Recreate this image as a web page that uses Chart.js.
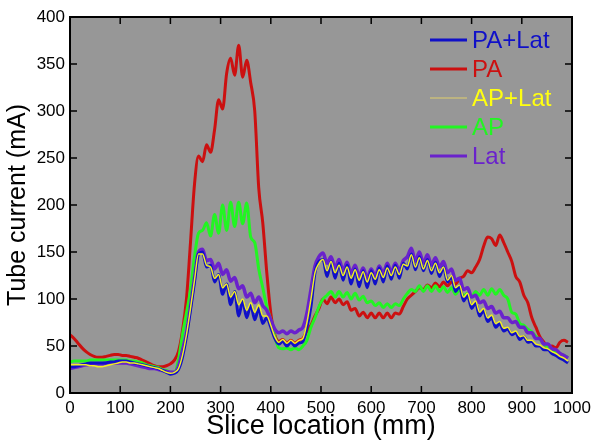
<!DOCTYPE html>
<html>
<head>
<meta charset="utf-8">
<script src="https://cdn.jsdelivr.net/npm/chart.js@4.4.1/dist/chart.umd.min.js"></script>
<style>
  html, body { margin: 0; padding: 0; background: #fff; }
  #wrap { width: 600px; height: 446px; }
</style>
</head>
<body>
<div id="wrap"><canvas id="chart" width="600" height="446"></canvas></div>
<script>
// slice location (mm)
const sliceMm = [
  0, 8, 16, 24, 32, 40, 48, 56, 64, 72, 80, 88, 96, 104, 112, 120, 128, 136, 144, 152, 160, 168, 176, 184, 192,
  200, 208, 216, 224, 232, 240, 248, 256, 264, 272, 280, 288, 296, 304, 312, 320, 328, 336, 344, 352, 360, 368, 376, 384, 392,
  400, 408, 416, 424, 432, 440, 448, 456, 464, 472, 480, 488, 496, 504, 512, 520, 528, 536, 544, 552, 560, 568, 576, 584, 592,
  600, 608, 616, 624, 632, 640, 648, 656, 664, 672, 680, 688, 696, 704, 712, 720, 728, 736, 744, 752, 760, 768, 776, 784, 792,
  800, 808, 816, 824, 832, 840, 848, 856, 864, 872, 880, 888, 896, 904, 912, 920, 928, 936, 944, 952, 960, 968, 976, 984, 992
];

// tube current (mA)
const paLat = [
  28, 28, 29, 30, 31, 32, 32, 32, 32, 32, 33, 33, 34, 34, 34, 33, 32, 31, 30, 29, 28, 27, 26, 24, 22,
  20, 21, 25, 38, 60, 88, 118, 148, 150, 134, 136, 118, 126, 105, 116, 94, 108, 82, 98, 80, 94, 78, 90, 74, 80,
  70, 58, 52, 55, 50, 54, 50, 53, 55, 70, 92, 128, 140, 142, 124, 140, 122, 138, 120, 136, 116, 132, 113, 130, 112,
  130, 116, 133, 118, 135, 121, 136, 122, 138, 132, 148, 131, 145, 130, 142, 127, 139, 124, 134, 118, 124, 108, 114, 98, 104,
  90, 96, 82, 88, 76, 80, 70, 74, 66, 68, 62, 64, 57, 60, 54, 55, 50, 50, 46, 46, 42, 40, 37, 35, 32
];
const pa = [
  62, 58, 53, 48, 44, 41, 39, 38, 38, 39, 40, 41, 41, 40, 40, 39, 38, 37, 35, 33, 31, 29, 28, 28, 29,
  31, 35, 44, 66, 100, 160, 222, 252, 246, 264, 256, 280, 312, 302, 340, 356, 338, 370, 336, 354, 330, 300, 218, 181, 128,
  85, 62, 55, 57, 53, 56, 53, 56, 58, 66, 72, 82, 90, 100, 95, 102, 96, 100, 94, 97, 88, 90, 82, 86, 80,
  85, 80, 85, 80, 85, 80, 85, 84, 92, 100, 104, 108, 112, 110, 115, 112, 117, 113, 118, 114, 118, 116, 122, 124, 130,
  128, 134, 142, 156, 166, 164, 157, 168, 160, 150, 140, 124, 118, 104, 96, 80, 70, 60, 54, 48, 50, 48, 54, 56, 54
];
const apLat = [
  30, 30, 30, 30, 30, 29, 29, 28, 28, 29, 30, 31, 32, 33, 33, 32, 32, 31, 30, 29, 28, 27, 26, 24, 22,
  21, 22, 26, 40, 62, 90, 120, 148, 148, 136, 134, 122, 126, 112, 116, 102, 108, 94, 100, 88, 96, 86, 94, 82, 82,
  72, 60, 54, 57, 53, 56, 53, 56, 58, 75, 100, 128, 138, 142, 130, 140, 128, 136, 125, 134, 122, 131, 120, 129, 118,
  128, 121, 131, 123, 133, 125, 134, 126, 137, 135, 147, 134, 144, 132, 141, 130, 138, 128, 134, 120, 125, 112, 115, 102, 106,
  94, 98, 86, 90, 80, 83, 74, 76, 69, 70, 64, 66, 60, 61, 56, 56, 52, 51, 48, 47, 44, 42, 39, 37, 34
];
const ap = [
  33, 34, 34, 34, 34, 35, 35, 35, 35, 35, 35, 35, 35, 35, 35, 34, 34, 33, 32, 30, 29, 28, 27, 25, 24,
  22, 22, 35, 62, 85, 110, 145, 170, 173, 181, 167, 190, 170, 200, 173, 203, 177, 203, 180, 202, 166, 160, 132, 112, 92,
  78, 60, 48, 47, 48, 46, 48, 46, 50, 56, 70, 80, 92, 100, 104, 108, 102, 108, 102, 107, 100, 106, 99, 103, 96,
  98, 93, 96, 91, 95, 91, 95, 93, 100, 106, 110, 108, 114, 108, 114, 108, 114, 108, 113, 107, 112, 105, 110, 103, 106,
  102, 108, 104, 110, 104, 111, 105, 110, 104, 100, 86, 84, 74, 72, 68, 65, 60, 57, 52, 49, 46, 44, 42, 40, 38
];
const lat = [
  26, 27, 28, 29, 30, 30, 31, 31, 31, 32, 32, 32, 32, 32, 32, 31, 30, 29, 28, 27, 26, 26, 25, 24, 23,
  22, 22, 28, 45, 64, 92, 122, 150, 153, 141, 142, 132, 138, 126, 131, 119, 123, 111, 114, 102, 106, 96, 102, 93, 88,
  78, 68, 64, 66, 63, 66, 64, 67, 70, 85, 110, 135, 145, 149, 138, 145, 133, 142, 130, 139, 127, 136, 124, 133, 122,
  132, 124, 135, 127, 138, 128, 138, 130, 141, 145, 154, 140, 150, 138, 147, 136, 144, 134, 140, 128, 132, 120, 122, 110, 112,
  102, 104, 96, 98, 90, 92, 85, 87, 80, 80, 75, 76, 70, 70, 64, 64, 58, 58, 52, 52, 47, 46, 42, 40, 37
];

const seriesNames = ['PA+Lat', 'PA', 'AP+Lat', 'AP', 'Lat'];
const xTicks = [0, 100, 200, 300, 400, 500, 600, 700, 800, 900, 1000];
const yTicks = [0, 50, 100, 150, 200, 250, 300, 350, 400];

const FONT = "'Liberation Sans', Arial, sans-serif";

function pts(arr) {
  return arr.map((v, i) => ({ x: sliceMm[i], y: v }));
}

function line(label, data, color, width, order) {
  return {
    label: label,
    data: pts(data),
    borderColor: color,
    backgroundColor: color,
    borderWidth: width,
    pointRadius: 0,
    cubicInterpolationMode: 'monotone',
    fill: false,
    order: order
  };
}

// grey plot background
const plotBg = {
  id: 'plotBg',
  beforeDraw(chart) {
    const { ctx, chartArea: a } = chart;
    ctx.save();
    ctx.fillStyle = '#979797';
    ctx.fillRect(a.left, a.top, a.right - a.left, a.bottom - a.top);
    ctx.restore();
  }
};

// black box with inward ticks on all four sides
const frame = {
  id: 'frame',
  afterDatasetsDraw(chart) {
    const { ctx, chartArea: a, scales } = chart;
    const len = 7;
    ctx.save();
    ctx.strokeStyle = '#000';
    ctx.lineWidth = 1.5;
    ctx.beginPath();
    scales.x.ticks.forEach(t => {
      const px = scales.x.getPixelForValue(t.value);
      if (px <= a.left + 1 || px >= a.right - 1) return;
      ctx.moveTo(px, a.bottom); ctx.lineTo(px, a.bottom - len);
      ctx.moveTo(px, a.top); ctx.lineTo(px, a.top + len);
    });
    scales.y.ticks.forEach(t => {
      const py = scales.y.getPixelForValue(t.value);
      if (py <= a.top + 1 || py >= a.bottom - 1) return;
      ctx.moveTo(a.left, py); ctx.lineTo(a.left + len, py);
      ctx.moveTo(a.right, py); ctx.lineTo(a.right - len, py);
    });
    ctx.stroke();
    ctx.lineWidth = 2;
    ctx.strokeRect(a.left, a.top, a.right - a.left, a.bottom - a.top);
    ctx.restore();
  }
};

// legend inside the top right of the plot
const insideLegend = {
  id: 'insideLegend',
  afterDraw(chart) {
    const { ctx } = chart;
    const x0 = 430, x1 = 467, tx = 472;
    let y = 40;
    ctx.save();
    ctx.font = '24px ' + FONT;
    ctx.textBaseline = 'middle';
    ctx.textAlign = 'left';
    chart.data.datasets.forEach(ds => {
      ctx.strokeStyle = ds.legendLine || ds.borderColor;
      ctx.lineWidth = ds.label === 'AP+Lat' ? 1.5 : 3;
      ctx.beginPath();
      ctx.moveTo(x0, y);
      ctx.lineTo(x1, y);
      ctx.stroke();
      ctx.fillStyle = ds.textColor || ds.borderColor;
      ctx.fillText(ds.label, tx, y + 1);
      y += 29;
    });
    ctx.restore();
  }
};

const datasets = [
  line(seriesNames[0], paLat, '#1010c8', 3, 2),
  line(seriesNames[1], pa, '#cc1010', 3, 5),
  line(seriesNames[2], apLat, '#f4f020', 1.5, 1),
  line(seriesNames[3], ap, '#22f522', 3, 4),
  line(seriesNames[4], lat, '#6a22cc', 3.5, 3)
];
datasets[2].legendLine = '#c8bc7a';
datasets[2].textColor = '#ffff10';

new Chart(document.getElementById('chart'), {
  type: 'line',
  data: { datasets: datasets },
  options: {
    responsive: false,
    animation: false,
    layout: { padding: { top: 17, right: 28, left: 0, bottom: 0 } },
    plugins: {
      legend: { display: false },
      tooltip: { enabled: false }
    },
    scales: {
      x: {
        type: 'linear',
        min: 0,
        max: 1000,
        afterBuildTicks: s => { s.ticks = xTicks.map(v => ({ value: v })); },
        afterFit: s => { s.height = 53; },
        grid: { display: false, drawTicks: false, tickLength: 0 },
        border: { display: false },
        ticks: {
          color: '#000',
          font: { family: FONT, size: 17 },
          padding: 5,
          maxRotation: 0,
          callback: v => String(v)
        },
        title: {
          display: true,
          text: 'Slice location (mm)',
          color: '#000',
          font: { family: FONT, size: 27 },
          padding: { top: 0, bottom: 3 }
        }
      },
      y: {
        min: 0,
        max: 400,
        afterBuildTicks: s => { s.ticks = yTicks.map(v => ({ value: v })); },
        afterFit: s => { s.width = 70; },
        grid: { display: false, drawTicks: false, tickLength: 0 },
        border: { display: false },
        ticks: { color: '#000', font: { family: FONT, size: 17 }, padding: 5, callback: v => String(v) },
        title: {
          display: true,
          text: 'Tube current (mA)',
          color: '#000',
          font: { family: FONT, size: 25 },
          padding: { top: 3, bottom: 0 }
        }
      }
    }
  },
  plugins: [plotBg, frame, insideLegend]
});
</script>
</body>
</html>
